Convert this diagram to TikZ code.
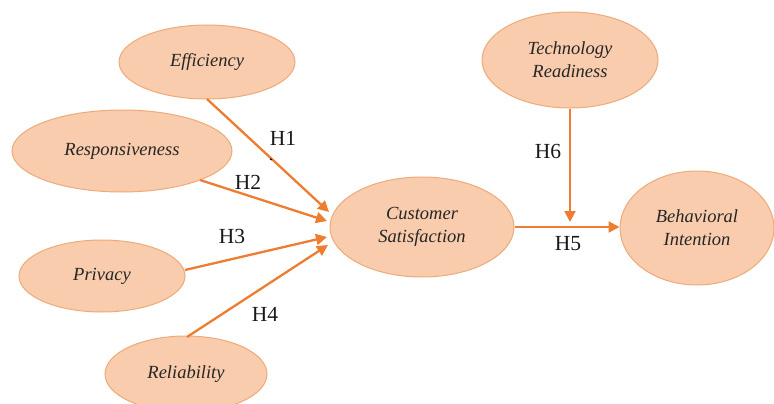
\documentclass[tikz,border=0pt]{standalone}
\usepackage{fontspec}
\setmainfont{Liberation Serif}
\usetikzlibrary{shapes.geometric,arrows.meta}
\definecolor{peach}{RGB}{248,204,172}
\definecolor{peachline}{RGB}{238,170,122}
\definecolor{arrowor}{RGB}{237,125,49}
\tikzset{
  construct/.style={ellipse, fill=peach, draw=peachline, line width=1pt,
    inner sep=0pt, font=\fontsize{18.5}{23}\selectfont\itshape, align=center,
    text=black!85},
  path/.style={draw=arrowor, line width=2.3pt,
    -{Triangle[length=11pt,width=11pt]}},
  hyp/.style={font=\fontsize{21.5}{24}\selectfont, text=black!90}
}
\begin{document}
\begin{tikzpicture}[x=1pt,y=-1pt]
\useasboundingbox (0,0) rectangle (774,404);
\fill[white] (0,0) rectangle (774,404);

% constructs
\node[construct, minimum width=176pt, minimum height=74pt] (eff) at (207,62) {Efficiency};
\node[construct, minimum width=220pt, minimum height=82pt] (resp) at (122,151) {Responsiveness};
\node[construct, minimum width=166pt, minimum height=72pt] (priv) at (102,276) {Privacy};
\node[construct, minimum width=162pt, minimum height=76pt] (rel) at (186,374) {Reliability};
\node[construct, minimum width=184pt, minimum height=100pt] (cs) at (422,227) {Customer\\Satisfaction};
\node[construct, minimum width=176pt, minimum height=96pt] (tr) at (570,60) {Technology\\Readiness};
\node[construct, minimum width=154pt, minimum height=114pt] (bi) at (697,228) {Behavioral\\Intention};

% end points on the left side of Customer Satisfaction
\coordinate (t1) at (329,212);
\coordinate (t2) at (327,221);
\coordinate (t3) at (327,237);
\coordinate (t4) at (328,245);
\coordinate (t6) at (570,222);

% hypothesised paths
\draw[path] (207,99) -- (t1);
\draw[path] (200,180) -- (t2);
\draw[path] (185,270) -- (t3);
\draw[path] (187,337) -- (t4);
\draw[path] (cs.east) -- (cs.east -| bi.west);
\draw[path] (tr.south) -- (t6);

% labels
\node[hyp] (h1) at (283,138) {H1};
\draw[black, line width=1.2pt] (270,159) -- (272,159.6);
\node[hyp] (h2) at (248,182) {H2};
\node[hyp] (h3) at (232,236) {H3};
\node[hyp] (h4) at (265,314) {H4};
\node[hyp] (h5) at (568,244) {H5};
\node[hyp] (h6) at (548,151) {H6};
\end{tikzpicture}
\end{document}
